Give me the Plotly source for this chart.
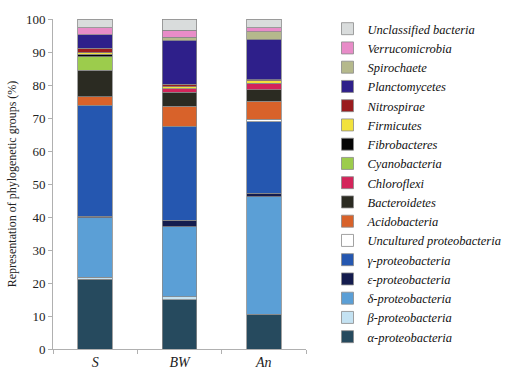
import plotly.graph_objects as go

categories = ["S", "BW", "An"]

# stacking order bottom -> top
groups = [
    "α-proteobacteria", "β-proteobacteria", "δ-proteobacteria", "ε-proteobacteria",
    "γ-proteobacteria", "Uncultured proteobacteria", "Acidobacteria", "Bacteroidetes",
    "Chloroflexi", "Cyanobacteria", "Fibrobacteres", "Firmicutes", "Nitrospirae",
    "Planctomycetes", "Spirochaete", "Verrucomicrobia", "Unclassified bacteria",
]

alpha_proteo = [21.2, 15.0, 10.6]
beta_proteo = [0.5, 0.9, 0.0]
delta_proteo = [18.0, 21.2, 35.5]
epsilon_proteo = [0.6, 1.9, 1.1]
gamma_proteo = [33.5, 28.5, 21.7]
uncultured_proteo = [0.0, 0.0, 0.7]
acidobacteria = [2.7, 6.0, 5.5]
bacteroidetes = [8.0, 4.3, 3.4]
chloroflexi = [0.0, 1.0, 2.1]
cyanobacteria = [4.1, 0.0, 0.0]
fibrobacteres = [0.7, 0.0, 0.0]
firmicutes = [0.5, 0.6, 0.7]
nitrospirae = [1.3, 0.9, 0.3]
planctomycetes = [4.2, 13.2, 12.2]
spirochaete = [0.0, 1.0, 2.3]
verrucomicrobia = [2.1, 2.1, 1.3]
unclassified = [2.6, 3.3, 2.6]

values = [
    alpha_proteo, beta_proteo, delta_proteo, epsilon_proteo, gamma_proteo,
    uncultured_proteo, acidobacteria, bacteroidetes, chloroflexi, cyanobacteria,
    fibrobacteres, firmicutes, nitrospirae, planctomycetes, spirochaete,
    verrucomicrobia, unclassified,
]

colors = [
    "#264a5e", "#c4e2f2", "#5b9fd6", "#141c4e", "#2557b0", "#ffffff",
    "#d8622a", "#2b2b22", "#d4245a", "#9ccc4c", "#050505", "#f2e23c",
    "#9a1c1e", "#2e1f8a", "#b5b98c", "#e88cc8", "#d9dcdc",
]

fig = go.Figure()
for name, vals, col in zip(groups, values, colors):
    fig.add_trace(go.Bar(
        x=categories, y=vals, name=f"<i>{name}</i>",
        marker=dict(color=col, line=dict(color="#8a8a8a", width=0.8)),
    ))

fig.update_layout(
    barmode="stack",
    bargap=0.59,
    width=518, height=382,
    margin=dict(l=52, r=172, t=14, b=27),
    plot_bgcolor="white", paper_bgcolor="white",
    font=dict(family="Liberation Serif", color="#222222"),
    legend=dict(
        traceorder="reversed", x=1.085, y=1.015, xanchor="left", yanchor="top",
        font=dict(family="Liberation Serif", size=12.5, color="#111111"),
        tracegroupgap=0, itemwidth=30, bgcolor="rgba(0,0,0,0)",
        maxheight=380,
    ),
    showlegend=True,
)
fig.update_xaxes(
    showline=True, linecolor="#b0b0b0", linewidth=1,
    ticks="outside", ticklen=4, tickcolor="#b0b0b0", tickson="boundaries",
    tickfont=dict(family="Liberation Serif", size=14, color="#222222"),
    ticktext=["<i>S</i>", "<i>BW</i>", "<i>An</i>"], tickvals=categories,
)
fig.update_yaxes(
    range=[0, 100], dtick=10, showgrid=False, zeroline=False,
    showline=True, linecolor="#b0b0b0", linewidth=1,
    ticks="outside", ticklen=4, tickcolor="#b0b0b0",
    tickfont=dict(family="Liberation Serif", size=13, color="#222222"),
    title=dict(text="Representation of phylogenetic groups (%)",
               font=dict(family="Liberation Serif", size=12, color="#222222"), standoff=6),
)

fig.write_html("out.html")
